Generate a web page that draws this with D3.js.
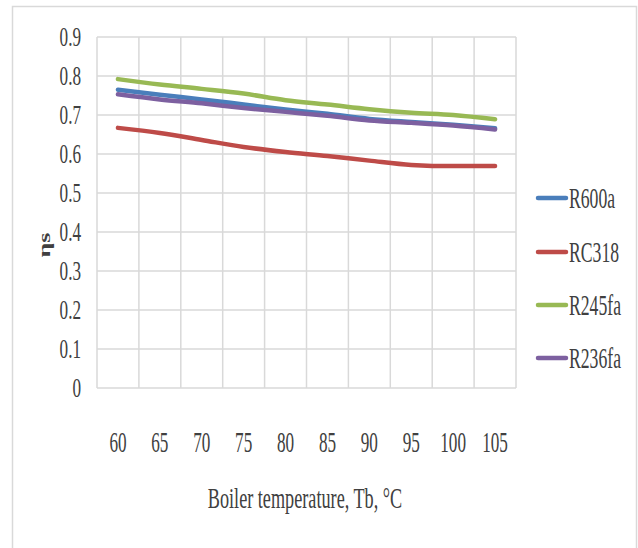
<!DOCTYPE html>
<html><head><meta charset="utf-8">
<script src="https://cdn.jsdelivr.net/npm/d3@7"></script>
<style>body{margin:0;background:#fff}svg text{font-family:"Liberation Serif","DejaVu Serif",serif;fill:#404040}</style>
</head><body>
<script>
const categories = [60, 65, 70, 75, 80, 85, 90, 95, 100, 105];
const yTicks = [0, 0.1, 0.2, 0.3, 0.4, 0.5, 0.6, 0.7, 0.8, 0.9];
const seriesNames = ["R600a", "RC318", "R245fa", "R236fa"];
const seriesColors = ["#4a7ebb", "#be4b48", "#98b954", "#7d60a0"];
const R600a  = [0.765, 0.752, 0.740, 0.727, 0.714, 0.703, 0.690, 0.682, 0.675, 0.666];
const RC318  = [0.667, 0.654, 0.636, 0.618, 0.605, 0.595, 0.583, 0.572, 0.569, 0.569];
const R245fa = [0.792, 0.778, 0.767, 0.755, 0.738, 0.727, 0.715, 0.706, 0.700, 0.689];
const R236fa = [0.753, 0.740, 0.730, 0.718, 0.708, 0.698, 0.686, 0.680, 0.673, 0.663];
const seriesValues = [R600a, RC318, R245fa, R236fa];

const W = 638, H = 548, SX = 0.66;
const svg = d3.select("body").append("svg").attr("width", W).attr("height", H);

// outer frame
svg.append("rect").attr("x", 12.5).attr("y", 6.5).attr("width", 624).attr("height", 560)
  .attr("fill", "none").attr("stroke", "#d9d9d9").attr("stroke-width", 1.5);

const pL = 97, pR = 516, pT = 37, pB = 388;
const x = d3.scaleBand().domain(categories).range([pL, pR]).paddingInner(0).paddingOuter(0);
const y = d3.scaleLinear().domain([0, 0.9]).range([pB, pT]);

// horizontal gridlines
svg.append("g").selectAll("line").data(yTicks).join("line")
  .attr("x1", pL).attr("x2", pR)
  .attr("y1", d => y(d)).attr("y2", d => y(d))
  .attr("stroke", "#d9d9d9").attr("stroke-width", 1.5);
// vertical gridlines at category boundaries
const edges = categories.map(c => x(c)).concat([pR]);
svg.append("g").selectAll("line").data(edges).join("line")
  .attr("x1", d => d).attr("x2", d => d)
  .attr("y1", pT).attr("y2", pB)
  .attr("stroke", "#d9d9d9").attr("stroke-width", 1.5);

// y axis labels
const yAxis = d3.axisLeft(y).tickValues(yTicks).tickSize(0).tickFormat(d => d === 0 ? "0" : d3.format(".1f")(d));
const gy = svg.append("g").attr("transform", `translate(${pL},0)`).call(yAxis);
gy.select(".domain").remove();
gy.selectAll("text").attr("font-size", 26).attr("x", null).attr("dy", null)
  .attr("font-family", "Liberation Serif").attr("fill", "#404040")
  .attr("dominant-baseline", "central")
  .attr("transform", `translate(-16,0) scale(${SX},1.05)`);

// x axis labels
const xAxis = d3.axisBottom(x).tickSize(0);
const gx = svg.append("g").attr("transform", `translate(0,${pB})`).call(xAxis);
gx.select(".domain").remove();
gx.selectAll("text").attr("font-size", 26).attr("y", null).attr("dy", null)
  .attr("font-family", "Liberation Serif").attr("fill", "#404040")
  .attr("dominant-baseline", "central")
  .attr("transform", `translate(0,54) scale(${SX},1.12)`);

// lines
const line = d3.line().x((d, i) => x(categories[i]) + x.bandwidth() / 2).y(d => y(d)).curve(d3.curveMonotoneX);
seriesValues.forEach((vals, k) => {
  svg.append("path").datum(vals).attr("d", line).attr("fill", "none")
    .attr("stroke", seriesColors[k]).attr("stroke-width", 4.5).attr("stroke-linecap", "round");
});

// axis titles
svg.append("text").attr("transform", `translate(305,498) scale(0.7,1.1)`)
  .attr("text-anchor", "middle").attr("dominant-baseline", "central").attr("font-size", 26)
  .text("Boiler temperature, Tb, °C");
svg.append("text").attr("transform", `translate(44,245) rotate(-90) scale(1,${SX})`)
  .attr("text-anchor", "middle").attr("dominant-baseline", "central").attr("font-size", 26)
  .attr("font-weight", "bold").text("ηs");

// legend
const legY = [198, 252, 305, 358];
seriesNames.forEach((n, k) => {
  svg.append("line").attr("x1", 538).attr("x2", 566).attr("y1", legY[k]).attr("y2", legY[k])
    .attr("stroke", seriesColors[k]).attr("stroke-width", 4.5).attr("stroke-linecap", "round");
  svg.append("text").attr("transform", `translate(569,${legY[k]}) scale(0.68,1.1)`)
    .attr("dominant-baseline", "central").attr("font-size", 26).text(n);
});
</script>
</body></html>
